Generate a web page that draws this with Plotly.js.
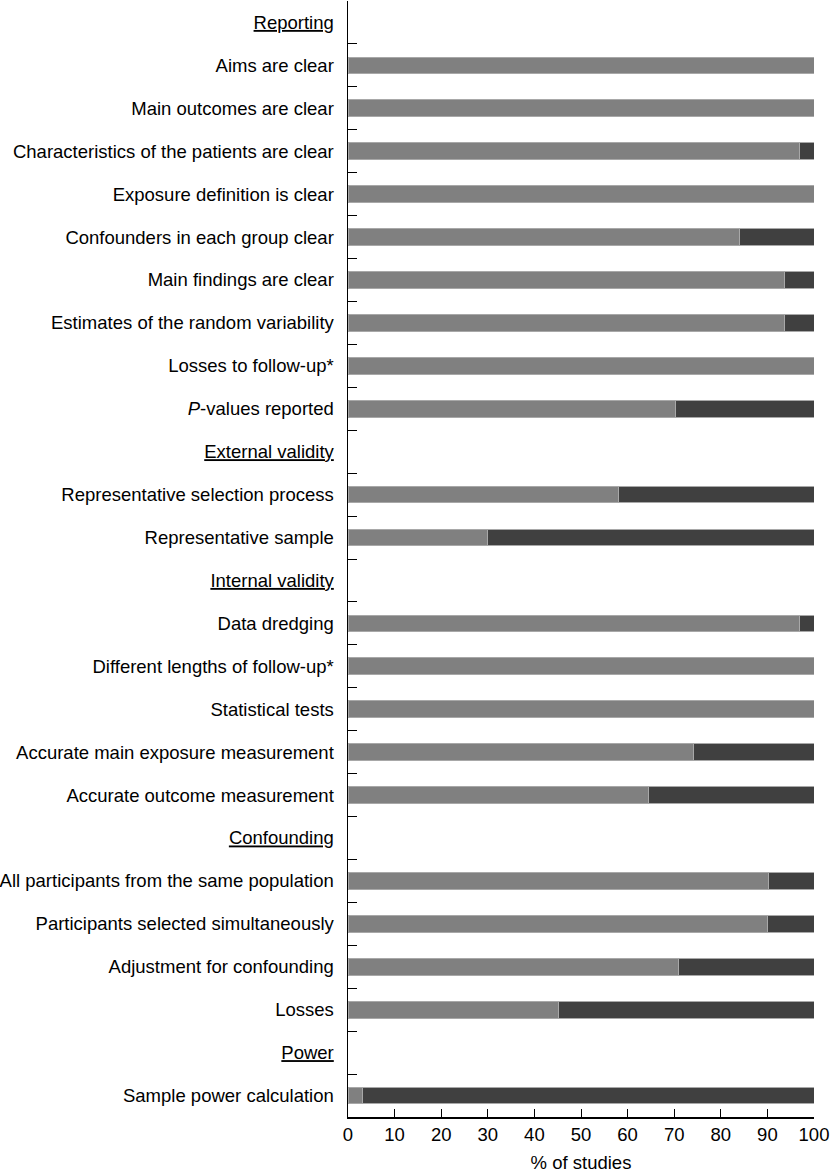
<!DOCTYPE html>
<html>
<head>
<meta charset="utf-8">
<script src="https://cdn.plot.ly/plotly-3.0.1.min.js"></script>
<style>html,body{margin:0;padding:0;background:#fff;}#chart{width:830px;height:1173px;}</style>
</head>
<body>
<div id="chart"></div>
<script>
var categories = [
  "<u>Reporting</u>",
  "Aims are clear",
  "Main outcomes are clear",
  "Characteristics of the patients are clear",
  "Exposure definition is clear",
  "Confounders in each group clear",
  "Main findings are clear",
  "Estimates of the random variability",
  "Losses to follow-up*",
  "<i>P</i>-values reported",
  "<u>External validity</u>",
  "Representative selection process",
  "Representative sample",
  "<u>Internal validity</u>",
  "Data dredging",
  "Different lengths of follow-up*",
  "Statistical tests",
  "Accurate main exposure measurement",
  "Accurate outcome measurement",
  "<u>Confounding</u>",
  "All participants from the same population",
  "Participants selected simultaneously",
  "Adjustment for confounding",
  "Losses",
  "<u>Power</u>",
  "Sample power calculation"
];
// % of studies meeting the criterion (light) and not meeting it (dark); null for section headers
var yesValues = [null,100,100,96.8,100,84.0,93.6,93.6,100,70.2,null,58.1,30.0,null,96.8,100,100,74.2,64.5,null,90.2,90.0,71.0,45.2,null,3.2];
var noValues  = [null,0,0,3.2,0,16.0,6.4,6.4,0,29.8,null,41.9,70.0,null,3.2,0,0,25.8,35.5,null,9.8,10.0,29.0,54.8,null,96.8];
var xTicks = [0,10,20,30,40,50,60,70,80,90,100];

var font = {family: "Liberation Sans, Arial, sans-serif", size: 18.5, color: "#000"};
var traces = [
  {type: "bar", orientation: "h", y: categories, x: yesValues, name: "Yes",
   marker: {color: "#808080", line: {color: "#a8a8a8", width: 1}}, width: 0.39},
  {type: "bar", orientation: "h", y: categories, x: noValues, name: "No",
   marker: {color: "#404040", line: {color: "#a8a8a8", width: 1}}, width: 0.39}
];
var layout = {
  width: 830, height: 1173,
  margin: {l: 348, r: 16, t: 1, b: 56, pad: 0},
  barmode: "stack",
  showlegend: false,
  paper_bgcolor: "#fff", plot_bgcolor: "#fff",
  font: font,
  xaxis: {
    range: [0, 100], tickvals: xTicks, ticktext: xTicks.map(String),
    ticks: "inside", ticklen: 8, tickcolor: "#000", tickwidth: 1,
    showline: true, linecolor: "#000", linewidth: 1.5,
    showgrid: false, zeroline: false, fixedrange: true,
    title: {text: "% of studies", font: font, standoff: 12},
    tickfont: font
  },
  yaxis: {
    type: "category", autorange: false, range: [categories.length - 0.5, -0.5],
    categoryorder: "array", categoryarray: categories,
    tickson: "boundaries", ticks: "inside", ticklen: 9, tickcolor: "#000", tickwidth: 1,
    showline: true, linecolor: "#000", linewidth: 1.5,
    showgrid: false, zeroline: false, fixedrange: true,
    ticklabelstandoff: 9,
    tickfont: font
  }
};
Plotly.newPlot("chart", traces, layout, {displayModeBar: false, staticPlot: true});
</script>
</body>
</html>
